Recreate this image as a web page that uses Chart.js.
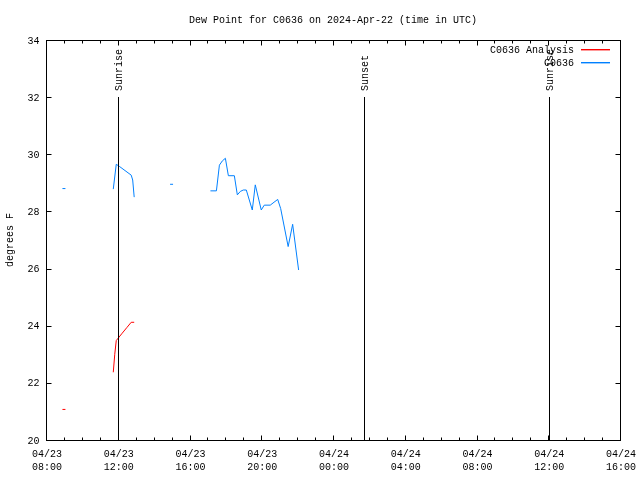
<!DOCTYPE html>
<html>
<head>
<meta charset="utf-8">
<script src="https://cdn.jsdelivr.net/npm/chart.js@4.4.1/dist/chart.umd.min.js"></script>
<style>
  html, body { margin: 0; padding: 0; background: #fff; }
  canvas { display: block; }
</style>
</head>
<body>
<canvas id="c" width="640" height="480"></canvas>
<script>
// ---- Data (times in UTC, "MM/DD HH:MM"; null value = gap in record) ----
const blueTimes = [
  '04/23 08:55', '04/23 09:05', '04/23 10:00',
  '04/23 11:45', '04/23 11:55', '04/23 12:05', '04/23 12:45', '04/23 12:50', '04/23 12:55', '04/23 14:00',
  '04/23 14:55', '04/23 15:05', '04/23 16:00',
  '04/23 17:10', '04/23 17:30', '04/23 17:40', '04/23 17:50', '04/23 18:00', '04/23 18:10', '04/23 18:30',
  '04/23 18:40', '04/23 18:50', '04/23 19:00', '04/23 19:10', '04/23 19:30', '04/23 19:40', '04/23 20:00',
  '04/23 20:10', '04/23 20:30', '04/23 20:55', '04/23 21:05', '04/23 21:30', '04/23 21:45', '04/23 22:05'
];
const blueValues = [
  28.80, 28.80, null,
  28.78, 29.65, 29.58, 29.27, 29.10, 28.50, null,
  28.95, 28.95, null,
  28.72, 28.72, 29.62, 29.77, 29.86, 29.25, 29.25,
  28.58, 28.70, 28.75, 28.75, 28.05, 28.93, 28.05,
  28.22, 28.22, 28.42, 28.10, 26.77, 27.55, 25.95
];
const redTimes = [
  '04/23 08:55', '04/23 09:05', '04/23 10:00',
  '04/23 11:45', '04/23 11:50', '04/23 11:55', '04/23 12:15', '04/23 12:30', '04/23 12:45', '04/23 12:55'
];
const redValues = [
  21.07, 21.07, null,
  22.37, 23.00, 23.48, 23.74, 23.93, 24.12, 24.12
];
const seriesNames = ['C0636 Analysis', 'C0636'];
const seriesColors = ['#ff0000', '#0080ff'];
const eventTimes = ['04/23 12:02', '04/24 01:43', '04/24 12:02'];
const eventLabels = ['Sunrise', 'Sunset', 'Sunrise'];
const xTickTimes = ['04/23 08:00', '04/23 12:00', '04/23 16:00', '04/23 20:00', '04/24 00:00',
                    '04/24 04:00', '04/24 08:00', '04/24 12:00', '04/24 16:00'];
const yTickValues = [20, 22, 24, 26, 28, 30, 32, 34];
const titleText = 'Dew Point for C0636 on 2024-Apr-22 (time in UTC)';
const yAxisTitle = 'degrees F';

// hours since 04/23 08:00
function toHours(s) {
  const [md, hm] = s.split(' ');
  const day = parseInt(md.split('/')[1], 10);
  const [h, m] = hm.split(':').map(Number);
  return (day - 23) * 24 + h + m / 60 - 8;
}
function pts(times, vals) {
  return times.map((t, i) => ({ x: toHours(t), y: vals[i] }));
}

const FONT = '10px "Liberation Mono", "DejaVu Sans Mono", monospace';

const decor = {
  id: 'decor',
  afterDatasetsDraw(chart) {
    const ctx = chart.ctx;
    const xs = chart.scales.x, ys = chart.scales.y;
    const a = chart.chartArea;
    const L = Math.round(a.left) + 0.5, R = Math.round(a.right) + 0.5;
    const T = Math.round(a.top) + 0.5, B = Math.round(a.bottom) + 0.5;
    ctx.save();
    ctx.strokeStyle = '#000';
    ctx.lineWidth = 1;
    // event lines
    eventTimes.forEach((t, i) => {
      const px = Math.round(xs.getPixelForValue(toHours(t))) + 0.5;
      const top = Math.round(ys.getPixelForValue(32));
      ctx.beginPath(); ctx.moveTo(px, top); ctx.lineTo(px, B); ctx.stroke();
      ctx.save();
      ctx.translate(px + 1, top - 6);
      ctx.rotate(-Math.PI / 2);
      ctx.font = FONT; ctx.fillStyle = '#000';
      ctx.textAlign = 'left'; ctx.textBaseline = 'middle';
      ctx.fillText(eventLabels[i], 0, 0);
      ctx.restore();
    });
    // frame
    ctx.strokeRect(L, T, R - L, B - T);
    // x ticks
    const majors = xTickTimes.map(toHours);
    for (let h = 0; h <= 32; h++) {
      const px = Math.round(xs.getPixelForValue(h)) + 0.5;
      const len = majors.includes(h) ? 5 : 3;
      ctx.beginPath();
      ctx.moveTo(px, B); ctx.lineTo(px, B - len);
      ctx.moveTo(px, T); ctx.lineTo(px, T + len);
      ctx.stroke();
    }
    // y ticks
    yTickValues.forEach(v => {
      const py = Math.round(ys.getPixelForValue(v)) + 0.5;
      ctx.beginPath();
      ctx.moveTo(L, py); ctx.lineTo(L + 5, py);
      ctx.moveTo(R, py); ctx.lineTo(R - 5, py);
      ctx.stroke();
    });
    // tick labels
    ctx.font = FONT; ctx.fillStyle = '#000';
    ctx.textAlign = 'right'; ctx.textBaseline = 'middle';
    yTickValues.forEach(v => {
      ctx.fillText(String(v), L - 7, ys.getPixelForValue(v) + 1);
    });
    ctx.textAlign = 'center';
    xTickTimes.forEach(t => {
      const px = xs.getPixelForValue(toHours(t));
      const [md, hm] = t.split(' ');
      ctx.fillText(md, px + 1, 454);
      ctx.fillText(hm, px + 1, 467);
    });
    // title
    ctx.fillText(titleText, 333, 20);
    // y axis title
    ctx.save();
    ctx.translate(10, 240);
    ctx.rotate(-Math.PI / 2);
    ctx.fillText(yAxisTitle, 0, 0);
    ctx.restore();
    // legend
    const ly = [49, 62];
    seriesNames.forEach((n, i) => {
      ctx.fillStyle = '#000';
      ctx.textAlign = 'right';
      ctx.fillText(n, 574, ly[i] + 1);
      ctx.fillStyle = seriesColors[i];
      ctx.fillRect(581, ly[i], 29, 1.4);
    });
    ctx.restore();
  }
};

new Chart(document.getElementById('c'), {
  type: 'line',
  data: {
    datasets: [
      { label: seriesNames[0], data: pts(redTimes, redValues), borderColor: seriesColors[0],
        borderWidth: 1, pointRadius: 0, tension: 0, spanGaps: false, fill: false },
      { label: seriesNames[1], data: pts(blueTimes, blueValues), borderColor: seriesColors[1],
        borderWidth: 1, pointRadius: 0, tension: 0, spanGaps: false, fill: false }
    ]
  },
  options: {
    responsive: false,
    animation: false,
    layout: { padding: { left: 46, right: 20, top: 40, bottom: 40 } },
    scales: {
      x: { type: 'linear', min: 0, max: 32, display: false },
      y: { type: 'linear', min: 20, max: 34, display: false }
    },
    plugins: { legend: { display: false }, title: { display: false }, tooltip: { enabled: false } }
  },
  plugins: [decor]
});
</script>
</body>
</html>
